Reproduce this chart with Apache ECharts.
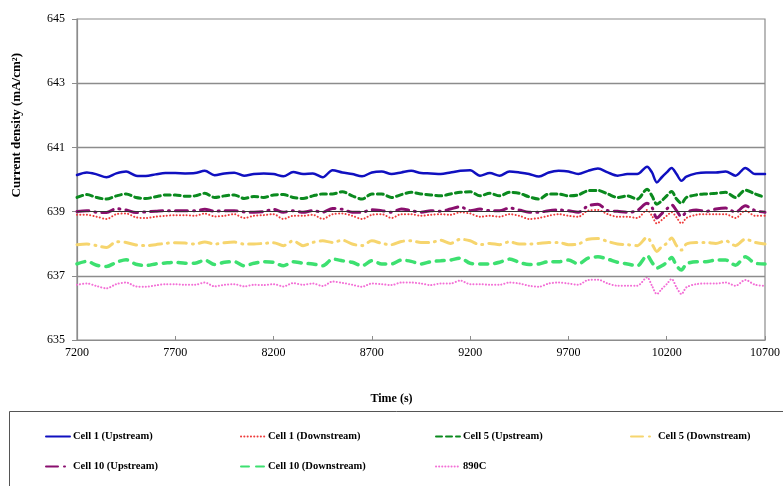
<!DOCTYPE html>
<html>
<head>
<meta charset="utf-8">
<script src="https://cdn.jsdelivr.net/npm/echarts@6/dist/echarts.min.js"></script>
<style>
  html, body { margin: 0; padding: 0; background: #fff; }
  #chart { width: 783px; height: 486px; }
</style>
</head>
<body>
<div id="chart"></div>
<script>
// Sampling times (s)
const times = [
  7200, 7250, 7300, 7350, 7400, 7450, 7500, 7550, 7600, 7650, 7700, 7750, 7800, 7850, 7900, 7950, 8000, 8050,
  8100, 8150, 8200, 8250, 8300, 8350, 8400, 8450, 8500, 8550, 8600, 8650, 8700, 8750, 8800, 8850, 8900, 8950,
  9000, 9050, 9100, 9150, 9200, 9250, 9300, 9350, 9400, 9450, 9500, 9550, 9600, 9650, 9700, 9750, 9800,
  9850, 9900, 9950, 10000, 10050, 10100,
  10125, 10150, 10175, 10200, 10225, 10250, 10275, 10300,
  10350, 10400, 10450, 10500, 10550, 10600, 10650, 10700
];

// Current density (mA/cm2) per cell
const cell1Up = [
  640.14, 640.22, 640.16, 640.07, 640.19, 640.25, 640.12, 640.11, 640.16, 640.20, 640.20, 640.19, 640.20, 640.27, 640.13, 640.19, 640.21, 640.12,
  640.17, 640.19, 640.17, 640.10, 640.23, 640.17, 640.19, 640.07, 640.29, 640.22, 640.17, 640.10, 640.22, 640.25, 640.17, 640.22, 640.27, 640.20,
  640.19, 640.17, 640.22, 640.27, 640.29, 640.12, 640.20, 640.12, 640.25, 640.22, 640.17, 640.09, 640.22, 640.27, 640.25, 640.17, 640.27,
  640.34, 640.22, 640.12, 640.17, 640.17, 640.40,
  640.22, 639.91, 640.07, 640.22, 640.36, 640.17, 639.96, 640.09,
  640.19, 640.22, 640.22, 640.25, 640.12, 640.36, 640.17, 640.17
];
const cell1Down = [
  638.90, 638.90, 638.84, 638.77, 638.92, 638.94, 638.82, 638.80, 638.84, 638.87, 638.89, 638.89, 638.87, 638.94, 638.85, 638.87, 638.92, 638.80,
  638.87, 638.89, 638.92, 638.77, 638.87, 638.87, 638.90, 638.77, 638.92, 638.94, 638.87, 638.77, 638.90, 638.92, 638.80, 638.92, 638.92, 638.87,
  638.90, 638.92, 638.90, 638.98, 638.94, 638.84, 638.87, 638.84, 638.92, 638.87, 638.77, 638.80, 638.87, 638.92, 638.87, 638.84, 639.03,
  639.05, 638.92, 638.84, 638.84, 638.80, 639.05,
  638.87, 638.63, 638.74, 638.87, 638.98, 638.82, 638.63, 638.80,
  638.90, 638.92, 638.92, 638.92, 638.80, 639.03, 638.87, 638.87
];
const cell5Up = [
  639.44, 639.53, 639.44, 639.39, 639.49, 639.55, 639.44, 639.41, 639.46, 639.52, 639.52, 639.48, 639.49, 639.57, 639.44, 639.49, 639.52, 639.41,
  639.47, 639.44, 639.52, 639.53, 639.44, 639.41, 639.49, 639.55, 639.55, 639.62, 639.49, 639.39, 639.55, 639.55, 639.44, 639.53, 639.60, 639.55,
  639.52, 639.49, 639.55, 639.60, 639.62, 639.49, 639.57, 639.49, 639.60, 639.57, 639.46, 639.39, 639.55, 639.55, 639.49, 639.52, 639.65,
  639.66, 639.55, 639.44, 639.49, 639.39, 639.70,
  639.49, 639.23, 639.34, 639.49, 639.63, 639.39, 639.26, 639.44,
  639.52, 639.55, 639.57, 639.60, 639.44, 639.67, 639.55, 639.44
];
const cell5Down = [
  637.97, 637.99, 637.94, 637.88, 638.06, 638.04, 637.96, 637.94, 637.97, 638.01, 638.03, 638.02, 637.99, 638.05, 637.99, 638.03, 638.05, 637.99,
  637.99, 638.01, 638.03, 637.94, 638.09, 637.94, 638.04, 638.09, 638.04, 638.11, 637.99, 637.94, 638.09, 638.01, 637.97, 638.07, 638.09, 638.04,
  638.04, 638.11, 638.01, 638.14, 638.09, 637.97, 638.01, 637.97, 638.06, 637.99, 637.99, 638.01, 638.04, 638.04, 637.97, 637.99, 638.14,
  638.16, 638.07, 637.99, 637.97, 637.94, 638.20,
  637.99, 637.76, 637.91, 638.01, 638.18, 637.94, 637.80, 637.99,
  638.04, 638.04, 638.01, 638.09, 637.94, 638.14, 638.04, 637.99
];
const cell10Up = [
  639.00, 639.03, 638.98, 638.97, 639.09, 639.05, 638.97, 638.99, 639.01, 639.03, 639.03, 639.03, 639.03, 639.07, 639.01, 639.03, 639.03, 638.99,
  638.98, 639.00, 639.07, 638.98, 639.03, 638.98, 639.03, 638.98, 639.10, 639.07, 638.98, 638.98, 639.06, 639.03, 638.98, 639.08, 639.03, 638.98,
  639.03, 639.01, 639.08, 639.15, 639.03, 639.08, 639.03, 639.03, 639.11, 639.05, 638.98, 638.98, 639.03, 639.05, 639.03, 638.98, 639.18,
  639.23, 639.03, 639.01, 638.98, 639.03, 639.26,
  639.13, 638.80, 638.94, 639.08, 639.21, 639.03, 638.84, 638.98,
  639.05, 639.01, 639.08, 639.11, 638.98, 639.18, 639.03, 638.98
];
const cell10Down = [
  637.37, 637.45, 637.33, 637.29, 637.42, 637.50, 637.36, 637.32, 637.37, 637.40, 637.42, 637.39, 637.39, 637.49, 637.35, 637.42, 637.44, 637.31,
  637.39, 637.44, 637.42, 637.31, 637.44, 637.39, 637.37, 637.31, 637.52, 637.47, 637.42, 637.31, 637.47, 637.37, 637.37, 637.49, 637.45, 637.37,
  637.44, 637.47, 637.49, 637.55, 637.39, 637.37, 637.37, 637.42, 637.52, 637.42, 637.35, 637.37, 637.44, 637.44, 637.49, 637.37, 637.55,
  637.59, 637.52, 637.42, 637.37, 637.31, 637.63,
  637.42, 637.24, 637.31, 637.42, 637.57, 637.31, 637.18, 637.37,
  637.44, 637.44, 637.49, 637.49, 637.33, 637.59, 637.39, 637.37
];
const s890C = [
  636.72, 636.76, 636.68, 636.61, 636.74, 636.79, 636.67, 636.66, 636.70, 636.74, 636.74, 636.72, 636.72, 636.79, 636.67, 636.72, 636.74, 636.67,
  636.72, 636.71, 636.74, 636.67, 636.77, 636.72, 636.76, 636.68, 636.82, 636.78, 636.72, 636.66, 636.76, 636.74, 636.71, 636.79, 636.79, 636.76,
  636.71, 636.76, 636.76, 636.85, 636.74, 636.74, 636.72, 636.72, 636.79, 636.76, 636.69, 636.66, 636.76, 636.79, 636.76, 636.72, 636.87,
  636.88, 636.76, 636.69, 636.69, 636.69, 636.95,
  636.69, 636.43, 636.59, 636.74, 636.90, 636.64, 636.43, 636.64,
  636.74, 636.76, 636.76, 636.79, 636.69, 636.87, 636.72, 636.69
];

// Axis ticks
const xTicks = [7200, 7700, 8200, 8700, 9200, 9700, 10200, 10700];
const yTicks = [635, 637, 639, 641, 643, 645];
const gridValues = [637, 641, 643];
const darkGridValue = 639;

const seriesNames = [
  'Cell 1 (Upstream)', 'Cell 1 (Downstream)', 'Cell 5 (Upstream)', 'Cell 5 (Downstream)',
  'Cell 10 (Upstream)', 'Cell 10 (Downstream)', '890C'
];

const FONT = '"Liberation Serif", "Times New Roman", serif';
const pair = (vals) => times.map((t, i) => [t, vals[i]]);

const styles = [
  { color: '#1010c0', width: 2.5, type: 'solid' },
  { color: '#ee3b3b', width: 2, type: [0.1, 3.2] },
  { color: '#0a8a1e', width: 3, type: [6, 4] },
  { color: '#f6d56e', width: 3, type: [12, 6, 1, 6] },
  { color: '#8a0f6e', width: 3, type: [12, 6, 1, 6] },
  { color: '#3de070', width: 3.5, type: [8, 7] },
  { color: '#f36fd6', width: 2, type: [0.1, 3] }
];
const values = [cell1Up, cell1Down, cell5Up, cell5Down, cell10Up, cell10Down, s890C];

const lineSeries = values.map((v, i) => ({
  name: seriesNames[i],
  type: 'line',
  data: pair(v),
  smooth: 0.3,
  symbol: 'none',
  z: 3,
  lineStyle: { color: styles[i].color, width: styles[i].width, type: styles[i].type, cap: 'round' },
  itemStyle: { color: styles[i].color }
}));

// Horizontal reference lines behind the data
const gridSeries = {
  type: 'line',
  data: [],
  silent: true,
  z: 1,
  markLine: {
    silent: true,
    symbol: ['none', 'none'],
    label: { show: false },
    animation: false,
    data: gridValues.map(v => ({ yAxis: v, lineStyle: { color: '#8c8c8c', width: 1.4, type: 'solid' } }))
      .concat([{ yAxis: darkGridValue, lineStyle: { color: '#333', width: 1, type: 'solid' } }])
  }
};

// Legend placement: two rows, four columns
const legendCols = [40, 235, 430, 625];
const legendRows = [426, 456];
const legends = seriesNames.map((n, i) => ({
  data: [n],
  left: legendCols[i % 4],
  top: legendRows[Math.floor(i / 4)],
  itemWidth: 24,
  itemHeight: 12,
  itemGap: 4,
  itemStyle: { opacity: 0 },
  textStyle: { fontFamily: FONT, fontSize: 10.5, fontWeight: 'bold', color: '#000', padding: [0, 0, 0, -2] },
  selectedMode: false
}));

const chart = echarts.init(document.getElementById('chart'), null, { renderer: 'canvas' });
chart.setOption({
  animation: false,
  backgroundColor: '#fff',
  grid: { left: 77, right: 15, top: 19, bottom: 146, show: true, borderColor: '#8c8c8c', borderWidth: 1.2 },
  xAxis: {
    type: 'value',
    min: 7200,
    max: 10700,
    axisLine: { show: true, lineStyle: { color: '#8c8c8c', width: 1.2 } },
    axisTick: { show: true, inside: true, length: 4, customValues: xTicks, lineStyle: { color: '#8c8c8c' } },
    axisLabel: { customValues: xTicks, margin: 7, formatter: v => String(v), fontFamily: FONT, fontSize: 12, color: '#000' },
    splitLine: { show: false }
  },
  yAxis: {
    type: 'value',
    min: 635,
    max: 645,
    axisLine: { show: true, lineStyle: { color: '#8c8c8c', width: 1.2 } },
    axisTick: { show: true, inside: false, length: 5, customValues: yTicks, lineStyle: { color: '#8c8c8c' } },
    axisLabel: { customValues: yTicks, margin: 12, fontFamily: FONT, fontSize: 12, color: '#000' },
    splitLine: { show: false }
  },
  legend: legends,
  graphic: [
    {
      type: 'text',
      left: 10,
      top: 53,
      rotation: Math.PI / 2,
      style: {
        text: 'Current density (mA/cm²)',
        fontFamily: FONT,
        fontSize: 13,
        fontWeight: 'bold',
        fill: '#000'
      }
    },
    {
      type: 'text',
      left: 'center',
      top: 393,
      style: { text: 'Time (s)', fontFamily: FONT, fontSize: 12, fontWeight: 'bold', fill: '#000' }
    },
    {
      type: 'rect',
      shape: { x: 9.5, y: 411.5, width: 800, height: 120 },
      style: { fill: 'none', stroke: '#555', lineWidth: 1 },
      z: -1
    }
  ],
  series: [gridSeries].concat(lineSeries)
});
</script>
</body>
</html>
